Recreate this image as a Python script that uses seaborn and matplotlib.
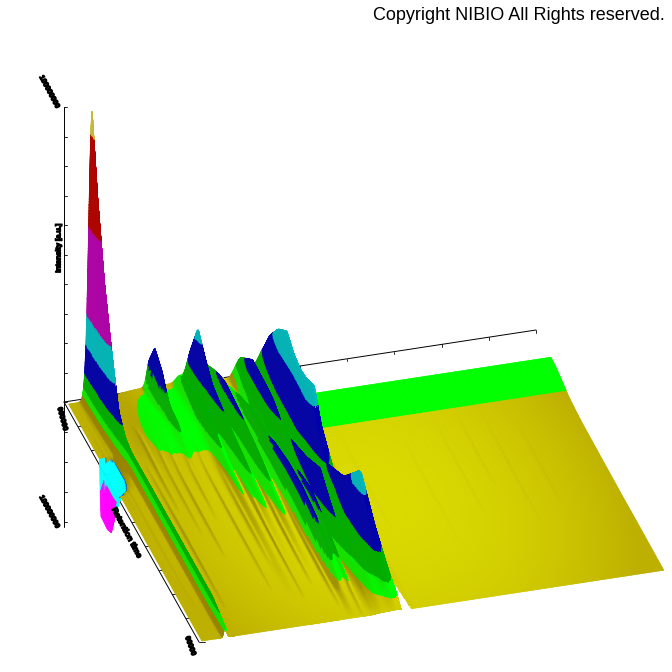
import numpy as np
import pandas as pd
import seaborn as sns
import matplotlib
matplotlib.use("Agg")
import matplotlib.pyplot as plt
import matplotlib.patheffects as pe
from matplotlib.collections import PolyCollection

# ---- data (heights in axis units) ----
V_KNOTS = [0, .05, .1, .15, .2, .25, .3, .35, .4, .5, .6, .7, .8, .9, 1]
BACK_PLATEAU = [13, 13, 13, 13, 12, 8.5, 5, 3.5, 2.5, 2, 1.5, 1, 1, .6, .3]
BROAD_HUMP = [4, 7, 9, 11, 12, 10, 6, 3, 2, 1, .5, .3, 0, 0, 0]
MID_PATCH = [0, 0, 2, 5, 7, 8, 8, 8, 7, 4, 1, 0, 0, 0, 0]
RIDGE_U = [.056, .056, .178, .27, .30, .33, .37, .43, .345, .402, .24]
RIDGE_SL = [.0075, .003, .006, .012, .009, .006, .012, .016, .016, .024, .008]
RIDGE_SR = [.0065, .003, .005, .005, .005, .005, .005, .005, .008, .02, .005]
RIDGE_P = [2, 2, 2, 2, 2, 2, 2, 2, 4, 4, 2]
RIDGE_A = [312, 216, 142, 88, 38, 20, 8, 0, 0, 0, 0, 0, 0, 0, 0]
RIDGE_T = [0, 0, 0, 0, 0, 2, 10, 18, 18, 18, 18, 18, 18, 18, 10]
RIDGE_E = [22, 46, 34, 10, 4, 3, 2, 1, 1, 0, 0, 0, 0, 0, 0]
RIDGE_F = [28, 60, 42, 26, 20, 18, 16, 15, 13, 8, 3, 1, 0, 0, 0]
RIDGE_G = [15, 22, 26, 26, 22, 20, 18, 16, 14, 8, 5, 2, 0, 0, 0]
RIDGE_H = [3, 5, 8, 9, 10, 10, 11, 13, 16, 20, 21, 16, 7, 1, 0]
RIDGE_C = [16, 26, 34, 30, 27, 24, 16, 13, 18, 30, 46, 24, 8, 2, 0]
RIDGE_D = [20, 46, 62, 72, 62, 58, 60, 66, 40, 14, 30, 62, 34, 14, 1]
RIDGE_C2 = [0, 0, 2, 4, 6, 6, 6, 8, 12, 17, 20, 20, 12, 3, 0]
RIDGE_D2 = [6, 12, 16, 18, 20, 20, 20, 20, 20, 20, 20, 22, 22, 12, 1]
RIDGE_J = [5, 7, 8, 8, 9, 9, 9, 8, 6, 5, 4, 2, 1, 0, 0]
RIDGES = [RIDGE_A, RIDGE_T, RIDGE_E, RIDGE_F, RIDGE_G, RIDGE_H, RIDGE_C, RIDGE_D, RIDGE_C2, RIDGE_D2, RIDGE_J]
DIP_V = [.24, .25, .3, .33, .36, .38, .4]
DIP_H = [0, -60, -62, -58, -26, -6, 0]
STREAK_U = [.03, .105, .125, .145, .17, .2, .225, .255, .285, .315, .35, .39,
            .41, .5, .62, .7, .75, .8, .86, .02, .09]
STREAK_V0 = [.0, .15, .2, .25, .3, .25, .35, .3, .4, .45, .5, .4, .6, .3, .35, .3, .3, .3, .35, .1, .3]
STREAK_V1 = [.9, .5, .6, .7, .55, .85, .75, .9, .85, .95, 1., .8, .95, .7, .8, .7, .6, .75, .7, .5, .9]
STREAK_H = [.4, 1.3, 1.1, 1.5, .9, 1.5, 1.2, 1.8, 1.6, 2, 2, 1.6, 2, .14, .14, .16, .2, .2, .2, .4, 1.6]
LEVELS = [7, 14, 28, 56, 86, 173, 263]
LEVEL_COLORS = ["#d8d800", "#00ff00", "#00b000", "#0000b0", "#00b8c0", "#b000b0", "#b00000", "#c8c040"]
NEG_LEVELS = [-25, -2.5]
NEG_COLORS = ["#ff00ff", "#00ffff", "#0050e0"]
BACK_TICKS = [.1 * i for i in range(1, 11)]
SIDE_TICKS = [.1 * i for i in range(1, 11)]
Z_TICKS = [29.5 * i for i in range(0, 11)]
LOW_TICKS = [30, 60, 90, 120]
LABELS = ["100000000", "Intensity [a.u.]", "000000", "100000000", "Retention time", "00000"]

# ---- projection of the axis box onto the page ----
ORIGIN = np.array([64.0, 402.0])
U_VEC = np.array([472.0, -72.0])
V_VEC = np.array([135.0, 240.0])


def project(u, v, z=0.0):
    u, v, z = np.asarray(u, float), np.asarray(v, float), np.asarray(z, float)
    return (ORIGIN[0] + u * U_VEC[0] + v * V_VEC[0],
            ORIGIN[1] + u * U_VEC[1] + v * V_VEC[1] - z)


# ---- surface (denser where the ridges are steep) ----
nv = 300
uu = np.unique(np.round(np.concatenate([
    np.linspace(.006, .985, 700),
    np.linspace(.035, .075, 320),
    np.linspace(.23, .30, 120),
    np.linspace(.35, .44, 300),
]), 6))
vv = np.linspace(.012, 1, nv + 1)
U, W = np.meshgrid(uu, vv, indexing="ij")


def knot(prof):
    return np.interp(W, V_KNOTS, prof)


right = np.clip((U - .435) / .02, 0, 1)
Z = knot(BACK_PLATEAU) * right + 0.5
Z = Z + knot(BROAD_HUMP) * np.exp(-np.abs((U - .197) / .093) ** 4)
Z = Z + knot(MID_PATCH) * np.exp(-np.abs((U - .335) / .06) ** 4)
for u0, sl, sr, p, prof in zip(RIDGE_U, RIDGE_SL, RIDGE_SR, RIDGE_P, RIDGES):
    s = np.where(U < u0, sl, sr)
    Z = Z + knot(prof) * np.exp(-.5 * np.abs((U - u0) / s) ** p)
for u0, v0, v1, h in zip(STREAK_U, STREAK_V0, STREAK_V1, STREAK_H):
    t = np.clip((W - v0) / (v1 - v0), 0, 1)
    Z = Z + h * np.sin(np.pi * t) ** .7 * np.exp(-.5 * ((U - u0) / .0024) ** 2)
Z = Z + np.interp(W, DIP_V, DIP_H) * np.exp(-.5 * (U / .014) ** 2)

# cells
xs, ys = project(U, W, Z)
zc = (Z[:-1, :-1] + Z[1:, :-1] + Z[:-1, 1:] + Z[1:, 1:]) / 4
uc = (U[:-1, :-1] + U[1:, 1:]) / 2
wc = (W[:-1, :-1] + W[1:, 1:]) / 2
du = (U[1:, :-1] - U[:-1, :-1])
dz = (Z[1:, :-1] + Z[1:, 1:] - Z[:-1, :-1] - Z[:-1, 1:]) / 2 / (du * 472)
polys = np.stack([
    np.stack([xs[:-1, :-1], ys[:-1, :-1]], -1), np.stack([xs[1:, :-1], ys[1:, :-1]], -1),
    np.stack([xs[1:, 1:], ys[1:, 1:]], -1), np.stack([xs[:-1, 1:], ys[:-1, 1:]], -1)], axis=2)

palette = np.array(sns.color_palette(LEVEL_COLORS))
neg_pal = np.array(sns.color_palette(NEG_COLORS))
idx = np.digitize(zc, LEVELS)
rgb = palette[idx].copy()

# soft lighting of the yellow floor and darker flanks
t = np.clip(((uc - .5) / .5) ** 2 + ((wc - .55) / .85) ** 2, 0, 1)
dim = np.array([190, 176, 0]) / 255
bright = np.array([218, 218, 0]) / 255
floor = bright[None, None, :] * (1 - t[..., None]) + dim[None, None, :] * t[..., None]
rgb[idx == 0] = floor[idx == 0]
flank = np.clip(dz / 1.0, 0, 1)
brown = np.array([120, 95, 0]) / 255
amount = np.where(idx == 0, .55 * flank, np.where(idx == 1, .2 * flank, .06 * flank))[..., None]
rgb = rgb * (1 - amount) + brown[None, None, :] * amount
nidx = np.digitize(zc, NEG_LEVELS)
neg = zc < -1.5
rgb[neg] = neg_pal[nidx[neg]]

mask = (uc > .44) & (wc < .165)
mask |= (wc > .87) & (np.abs(uc - .4395) < .004 + (wc - .87) * .05)
keep = ~mask
order_key = -(ORIGIN[1] + uc * U_VEC[1] + wc * V_VEC[1])
P = polys[keep]
C = rgb[keep]
K = order_key[keep]
NEGF = neg[keep]
order = np.lexsort((-K, ~NEGF))
P, C = P[order], C[order]

# ---- figure ----
sns.set_theme(style="white")
plt.rcParams['font.family'] = ['Liberation Sans', 'DejaVu Sans']
fig = plt.figure(figsize=(6.72, 6.72), dpi=100)
ax = fig.add_axes([0, 0, 1, 1])
ax.set_xlim(0, 672)
ax.set_ylim(672, 0)
ax.axis("off")


def seg(u, v, z, lw=.7):
    x, y = project(u, v, z)
    frame = pd.DataFrame({"x": np.atleast_1d(x), "y": np.atleast_1d(y)})
    sns.lineplot(data=frame, x="x", y="y", sort=False, estimator=None, color="black",
                 lw=lw, ax=ax, legend=False, zorder=1)


seg([0, 0], [0, 0], [0, 295])
seg([0, 0], [0, 0], [0, -125])
seg([0, 1.0], [0, 0], [0, 0])
seg([0, 0], [0, 1], [0, 0])
for z in Z_TICKS:
    x, y = project(0, 0, z)
    ax.plot([x, x + 2.5], [y, y], color="black", lw=.6, zorder=1)
for z in LOW_TICKS:
    x, y = project(0, 0, -z)
    ax.plot([x, x + 2.5], [y, y], color="black", lw=.6, zorder=1)
for u in BACK_TICKS:
    x, y = project(u, 0)
    ax.plot([x, x], [y, y + 2.5], color="black", lw=.6, zorder=1)
for v in SIDE_TICKS:
    x, y = project(0, v)
    ax.plot([x, x + 6], [y, y], color="black", lw=.6, zorder=1)

ax.add_collection(PolyCollection(P, facecolors=C, edgecolors=C, linewidths=.3,
                                 antialiaseds=True, zorder=2))

thick = [pe.withStroke(linewidth=.9, foreground="black")]
style = dict(fontsize=5.2, fontweight="bold", color="black", ha="center", va="center",
             zorder=5, path_effects=thick)
ax.text(49, 92, LABELS[0], rotation=-62, **style)
ax.text(59, 248, LABELS[1], rotation=90, **style)
ax.text(62, 419, LABELS[2], rotation=-75, **style)
ax.text(49, 512, LABELS[3], rotation=-62, **style)
ax.text(126, 533, LABELS[4], rotation=-62, fontsize=5.8, fontweight="bold", color="black",
        ha="center", va="center", zorder=5, path_effects=thick)
ax.text(190, 646, LABELS[5], rotation=-70, **style)

ax.text(665, 15.5, "Copyright NIBIO All Rights reserved.", fontsize=12.95, color="black",
        ha="right", va="center", zorder=6)

sns.despine(ax=ax, left=True, bottom=True)
fig.savefig("out.png", dpi=100, facecolor="white")
